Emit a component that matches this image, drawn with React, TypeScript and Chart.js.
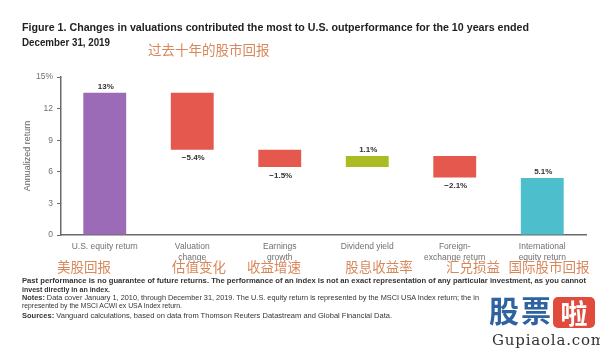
import React, { useEffect, useLayoutEffect, useRef } from "react";
import { Chart, registerables } from "chart.js";

Chart.register(...registerables);

const categories: string[][] = [
  ["U.S. equity return"],
  ["Valuation", "change"],
  ["Earnings", "growth"],
  ["Dividend yield"],
  ["Foreign-", "exchange return"],
  ["International", "equity return"],
];
const categoriesZh = ["美股回报", "估值变化", "收益增速", "股息收益率", "汇兑损益", "国际股市回报"];
const zhCenters = [84, 199, 274, 379, 473, 549];
const barStart = [0, 8.1, 6.45, 6.45, 5.45, 0];
const barEnd = [13.5, 13.5, 8.1, 7.5, 7.5, 5.4];
const valueLabels = ["13%", "\u22125.4%", "\u22121.5%", "1.1%", "\u22122.1%", "5.1%"];
const isDecrease = [false, true, true, false, true, false];
const barColors = ["#9b6bb7", "#e4584d", "#e4584d", "#aabc22", "#e4584d", "#4dbfcc"];

const yMin = 0;
const yMax = 15;
const yStep = 3;

const titleLines = [
  "Figure 1. Changes in valuations contributed the most to U.S. outperformance for the 10 years ended",
  "December 31, 2019",
];
const subtitleZh = "过去十年的股市回报";

const SANS = "'Liberation Sans', Arial, sans-serif";
const ZH = "'Noto Sans CJK SC', sans-serif";
const ORANGE = "#d8875a";

const valueLabelPlugin = {
  id: "valueLabels",
  afterDatasetsDraw(chart: any) {
    const ctx = chart.ctx;
    const meta = chart.getDatasetMeta(0);
    ctx.save();
    ctx.font = "bold 8px " + SANS;
    ctx.fillStyle = "#333";
    ctx.textAlign = "center";
    ctx.textBaseline = "middle";
    meta.data.forEach((bar: any, i: number) => {
      const top = Math.min(bar.y, bar.base);
      const bottom = Math.max(bar.y, bar.base);
      const y = isDecrease[i] ? bottom + 8.5 : top - 6.5;
      ctx.fillText(valueLabels[i], bar.x + 1, y);
    });
    ctx.restore();
  },
};

function FitText(props: { width: number; style: React.CSSProperties; children: React.ReactNode }) {
  const ref = useRef<HTMLDivElement | null>(null);
  useLayoutEffect(() => {
    const el = ref.current;
    if (!el) return;
    el.style.transform = "none";
    const w = el.getBoundingClientRect().width;
    if (w > 0) el.style.transform = `scaleX(${props.width / w})`;
  });
  return (
    <div
      ref={ref}
      style={{ position: "absolute", whiteSpace: "nowrap", lineHeight: 1, transformOrigin: "0 0", display: "inline-block", ...props.style }}
    >
      {props.children}
    </div>
  );
}

function ChartCanvas() {
  const ref = useRef<HTMLCanvasElement | null>(null);
  useEffect(() => {
    if (!ref.current) return;
    const chart = new Chart(ref.current, {
      type: "bar",
      data: {
        labels: categories,
        datasets: [
          {
            data: barStart.map((s, i) => [s, barEnd[i]]) as any,
            backgroundColor: barColors,
            borderWidth: 0,
            categoryPercentage: 1,
            barPercentage: 0.49,
          },
        ],
      },
      options: {
        responsive: false,
        animation: false,
        devicePixelRatio: 1,
        layout: { padding: { top: 77, right: 14, left: 22, bottom: 0 } },
        plugins: { legend: { display: false }, tooltip: { enabled: false } },
        scales: {
          x: {
            grid: { display: false, drawTicks: false },
            border: { display: true, color: "#6b6b6b", width: 1.5 },
            ticks: {
              color: "#707070",
              font: { family: SANS, size: 8.5 },
              padding: 7,
              maxRotation: 0,
              autoSkip: false,
            },
            afterFit(scale: any) {
              scale.height = 119;
            },
          },
          y: {
            min: yMin,
            max: yMax,
            grid: { drawOnChartArea: false, drawTicks: true, tickLength: 4, color: "#6b6b6b", lineWidth: 1 },
            border: { display: true, color: "#6b6b6b", width: 1.5 },
            ticks: {
              stepSize: yStep,
              color: "#707070",
              font: { family: SANS, size: 8.5 },
              padding: 4,
              callback: (v: any) => (v === yMax ? v + "%" : String(v)),
            },
            title: {
              display: true,
              text: "Annualized return",
              color: "#666",
              font: { family: SANS, size: 9 },
              padding: { top: 0, bottom: 0 },
            },
            afterFit(scale: any) {
              scale.width = 39;
            },
          },
        },
      },
      plugins: [valueLabelPlugin],
    });
    return () => chart.destroy();
  }, []);
  return <canvas ref={ref} width={600} height={354} style={{ position: "absolute", left: 0, top: 0, width: 600, height: 354 }} />;
}

export default function App() {
  const foot: React.CSSProperties = {
    left: 22,
    fontFamily: SANS,
    color: "#333",
  };
  return (
    <div style={{ position: "absolute", left: 0, top: 0, width: 600, height: 354, background: "#fff", overflow: "hidden" }}>
      <ChartCanvas />
      <FitText width={507} style={{ left: 22, top: 22, fontFamily: SANS, fontWeight: "bold", fontSize: 10.5, color: "#222" }}>
        {titleLines[0]}
      </FitText>
      <FitText width={88} style={{ left: 22, top: 37, fontFamily: SANS, fontWeight: "bold", fontSize: 10.5, color: "#222" }}>
        {titleLines[1]}
      </FitText>
      <div style={{ position: "absolute", left: 148, top: 43, fontFamily: ZH, fontSize: 13.5, color: ORANGE, lineHeight: 1, whiteSpace: "nowrap" }}>
        {subtitleZh}
      </div>
      {categoriesZh.map((t, i) => (
        <div
          key={t}
          style={{
            position: "absolute",
            left: zhCenters[i],
            top: 260,
            transform: "translateX(-50%)",
            fontFamily: ZH,
            fontSize: 13.5,
            color: ORANGE,
            lineHeight: 1,
            whiteSpace: "nowrap",
          }}
        >
          {t}
        </div>
      ))}
      <FitText width={564} style={{ ...foot, top: 277, fontSize: 8, fontWeight: "bold" }}>
        Past performance is no guarantee of future returns. The performance of an index is not an exact representation of any particular investment, as you cannot
      </FitText>
      <FitText width={88} style={{ ...foot, top: 285.5, fontSize: 8, fontWeight: "bold" }}>
        invest directly in an index.
      </FitText>
      <FitText width={457} style={{ ...foot, top: 293.5, fontSize: 7.5 }}>
        <b>Notes:</b> Data cover January 1, 2010, through December 31, 2019. The U.S. equity return is represented by the MSCI USA Index return; the in
      </FitText>
      <FitText width={160} style={{ ...foot, top: 302, fontSize: 7.5 }}>
        represented by the MSCI ACWI ex USA Index return.
      </FitText>
      <FitText width={370} style={{ ...foot, top: 311.5, fontSize: 7.5 }}>
        <b>Sources:</b> Vanguard calculations, based on data from Thomson Reuters Datastream and Global Financial Data.
      </FitText>
      {/* watermark */}
      <div style={{ position: "absolute", left: 489, top: 294, fontFamily: ZH, fontWeight: "bold", fontSize: 30, color: "#2f63a0", lineHeight: 1, whiteSpace: "nowrap", letterSpacing: 2 }}>
        股票
      </div>
      <div
        style={{
          position: "absolute",
          left: 553,
          top: 297,
          width: 42,
          height: 31,
          background: "#e04b3d",
          borderRadius: 5,
          color: "#fff",
          fontFamily: ZH,
          fontWeight: "bold",
          fontSize: 27,
          lineHeight: "31px",
          textAlign: "center",
        }}
      >
        啦
      </div>
      <div style={{ position: "absolute", left: 492, top: 333, fontFamily: "'DejaVu Serif', serif", fontSize: 15, color: "#333", lineHeight: 1, letterSpacing: 0.8, whiteSpace: "nowrap" }}>
        Gupiaola.com
      </div>
    </div>
  );
}
